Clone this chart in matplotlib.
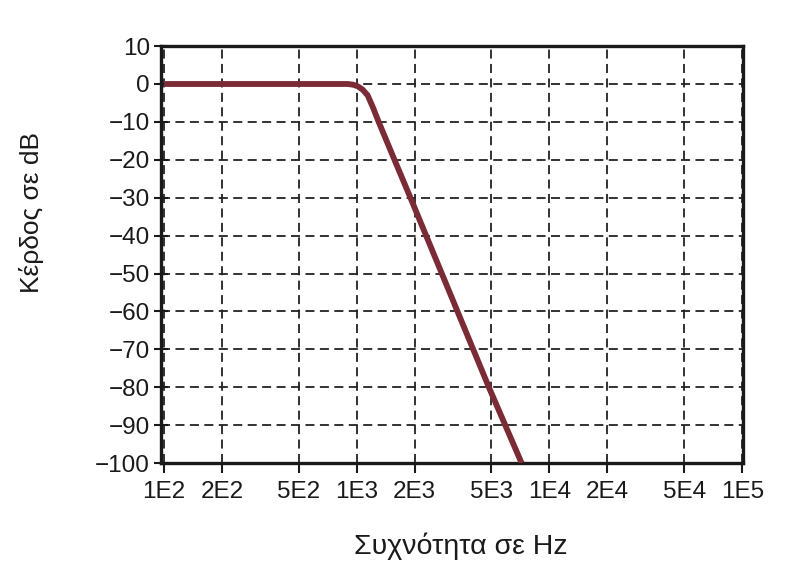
import matplotlib.pyplot as plt
import matplotlib.ticker as ticker

plt.rcParams['font.family'] = ['Liberation Sans', 'DejaVu Sans']

# data
freq_hz = [100, 500, 900, 960, 1012, 1074, 1140, 1210, 1300, 1570, 1900, 4850, 7170]
gain_db = [0, 0, 0, -0.2, -0.6, -1.5, -3, -6, -10, -20, -30, -80, -100]

x_ticks = [1e2, 2e2, 5e2, 1e3, 2e3, 5e3, 1e4, 2e4, 5e4, 1e5]
x_tick_labels = ['1E2', '2E2', '5E2', '1E3', '2E3', '5E3', '1E4', '2E4', '5E4', '1E5']
y_ticks = list(range(10, -101, -10))

fig = plt.figure(figsize=(7.93, 5.62), dpi=100)
ax = fig.add_axes([0.203, 0.176, 0.734, 0.742])

ax.plot(freq_hz, gain_db, color='#7b2b35', linewidth=4.2, solid_capstyle='butt',
        solid_joinstyle='round', zorder=3)

ax.set_xscale('log')
ax.set_xlim(96.5, 1.01e5)
ax.set_ylim(-100, 10)

ax.xaxis.set_major_locator(ticker.FixedLocator(x_ticks))
ax.xaxis.set_minor_locator(ticker.NullLocator())
ax.set_xticklabels(x_tick_labels)
ax.set_yticks(y_ticks)
ax.set_yticklabels([str(v).replace('-', '\u2212') for v in y_ticks])

ax.grid(True, which='major', color='#222222', linestyle=(0, (5, 3)), linewidth=1.3)

for s in ax.spines.values():
    s.set_linewidth(2.4)
    s.set_color('#1a1a1a')

ax.tick_params(axis='x', direction='out', length=7, width=1.5, labelsize=17.5,
               colors='#1a1a1a', pad=6)
ax.tick_params(axis='y', direction='inout', length=10, width=1.5, labelsize=17.5,
               colors='#1a1a1a', pad=3)

fig.text(461 / 793, 1 - 546 / 562, 'Συχνότητα σε Hz', fontsize=20.5, color='#1a1a1a',
         ha='center', va='center')
fig.text(32 / 793, 1 - 213 / 562, 'Κέρδος σε dB', fontsize=19, color='#1a1a1a',
         ha='center', va='center', rotation=90)

fig.savefig('out.png', dpi=100, facecolor='white')
